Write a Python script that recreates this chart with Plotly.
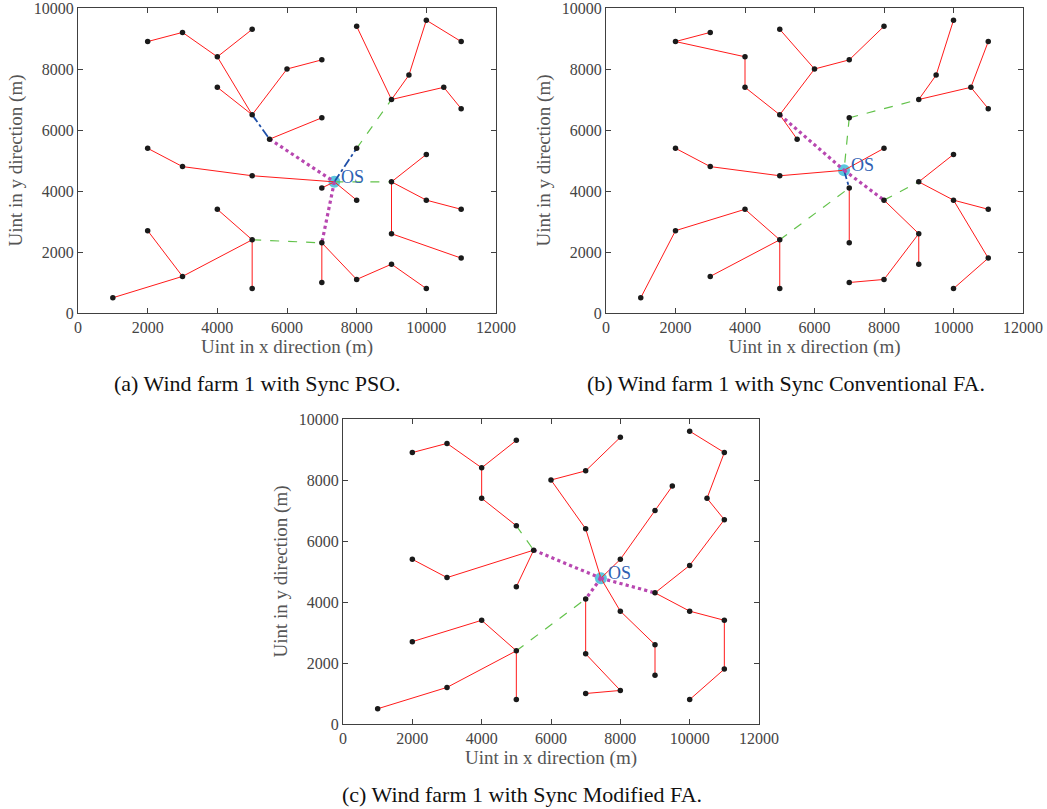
import plotly.graph_objects as go

# Turbine coordinates (same layout in all three panels)
turbine_x = [2000, 3000, 4000, 5000, 4000, 5000, 6000, 7000, 7000, 5500,
             2000, 3000, 5000, 7000, 8000, 8000, 8000, 9000, 9500, 10000,
             11000, 10500, 11000, 9000, 10000, 10000, 11000, 9000, 11000, 9000,
             10000, 8000, 7000, 7000, 5000, 5000, 4000, 2000, 3000, 1000]
turbine_y = [8900, 9200, 8400, 9300, 7400, 6500, 8000, 8300, 6400, 5700,
             5400, 4800, 4500, 4100, 3700, 5400, 9400, 7000, 7800, 9600,
             8900, 7400, 6700, 4300, 5200, 3700, 3400, 2600, 1800, 1600,
             800, 1100, 2300, 1000, 2400, 800, 3400, 2700, 1200, 500]

# Offshore substation positions
os_a = (7360, 4300)
os_b = (6850, 4680)
os_c = (7440, 4780)

# Cable edges, "OS" marks the substation
red_a = [((2000, 8900), (3000, 9200)), ((3000, 9200), (4000, 8400)), ((4000, 8400), (5000, 9300)),
         ((4000, 8400), (5000, 6500)), ((4000, 7400), (5000, 6500)), ((5000, 6500), (6000, 8000)),
         ((6000, 8000), (7000, 8300)), ((5500, 5700), (7000, 6400)), ((2000, 5400), (3000, 4800)),
         ((3000, 4800), (5000, 4500)), ((5000, 4500), "OS"), ("OS", (8000, 3700)), ("OS", (7000, 4100)),
         ((8000, 9400), (9000, 7000)), ((9000, 7000), (9500, 7800)), ((9500, 7800), (10000, 9600)),
         ((10000, 9600), (11000, 8900)), ((9000, 7000), (10500, 7400)), ((10500, 7400), (11000, 6700)),
         ((9000, 4300), (10000, 5200)), ((9000, 4300), (10000, 3700)), ((10000, 3700), (11000, 3400)),
         ((9000, 4300), (9000, 2600)), ((9000, 2600), (11000, 1800)), ((4000, 3400), (5000, 2400)),
         ((2000, 2700), (3000, 1200)), ((3000, 1200), (5000, 2400)), ((1000, 500), (3000, 1200)),
         ((5000, 2400), (5000, 800)), ((7000, 2300), (7000, 1000)), ((7000, 2300), (8000, 1100)),
         ((8000, 1100), (9000, 1600)), ((9000, 1600), (10000, 800))]
green_a = [((8000, 5400), (9000, 7000)), ("OS", (9000, 4300)), ((5000, 2400), (7000, 2300))]
blue_a = [((5000, 6500), (5500, 5700)), ("OS", (8000, 5400))]
magenta_a = [((5500, 5700), "OS"), ("OS", (7000, 2300))]

red_b = [((3000, 9200), (2000, 8900)), ((2000, 8900), (4000, 8400)), ((4000, 8400), (4000, 7400)),
         ((4000, 7400), (5000, 6500)), ((5000, 6500), (6000, 8000)), ((5000, 9300), (6000, 8000)),
         ((6000, 8000), (7000, 8300)), ((7000, 8300), (8000, 9400)), ((5000, 6500), (5500, 5700)),
         ((9000, 7000), (9500, 7800)), ((9500, 7800), (10000, 9600)), ((9000, 7000), (10500, 7400)),
         ((10500, 7400), (11000, 8900)), ((10500, 7400), (11000, 6700)), ((2000, 5400), (3000, 4800)),
         ((3000, 4800), (5000, 4500)), ((5000, 4500), "OS"), ("OS", (8000, 5400)),
         ((7000, 4100), (7000, 2300)), ((9000, 4300), (10000, 5200)), ((9000, 4300), (10000, 3700)),
         ((10000, 3700), (11000, 3400)), ((10000, 3700), (11000, 1800)), ((11000, 1800), (10000, 800)),
         ((8000, 3700), (9000, 2600)), ((9000, 2600), (9000, 1600)), ((9000, 2600), (8000, 1100)),
         ((8000, 1100), (7000, 1000)), ((2000, 2700), (4000, 3400)), ((1000, 500), (2000, 2700)),
         ((4000, 3400), (5000, 2400)), ((3000, 1200), (5000, 2400)), ((5000, 2400), (5000, 800))]
green_b = [((7000, 6400), (9000, 7000)), ((7000, 6400), "OS"), ((5000, 2400), (7000, 4100)),
           ((8000, 3700), (9000, 4300))]
blue_b = [("OS", (7000, 4100))]
magenta_b = [((5000, 6500), "OS"), ("OS", (8000, 3700))]

red_c = [((2000, 8900), (3000, 9200)), ((3000, 9200), (4000, 8400)), ((4000, 8400), (5000, 9300)),
         ((4000, 8400), (4000, 7400)), ((4000, 7400), (5000, 6500)), ((2000, 5400), (3000, 4800)),
         ((3000, 4800), (5500, 5700)), ((5500, 5700), (5000, 4500)), ((6000, 8000), (7000, 8300)),
         ((7000, 8300), (8000, 9400)), ((6000, 8000), (7000, 6400)), ((7000, 6400), "OS"),
         ("OS", (8000, 5400)), ((8000, 5400), (9000, 7000)), ((9000, 7000), (9500, 7800)),
         ((10000, 9600), (11000, 8900)), ((11000, 8900), (10500, 7400)), ((10500, 7400), (11000, 6700)),
         ((11000, 6700), (10000, 5200)), ((10000, 5200), (9000, 4300)), ((9000, 4300), (10000, 3700)),
         ((10000, 3700), (11000, 3400)), ((11000, 3400), (11000, 1800)), ((11000, 1800), (10000, 800)),
         ("OS", (8000, 3700)), ((8000, 3700), (9000, 2600)), ((9000, 2600), (9000, 1600)),
         ((7000, 4100), (7000, 2300)), ((7000, 2300), (8000, 1100)), ((8000, 1100), (7000, 1000)),
         ((2000, 2700), (4000, 3400)), ((4000, 3400), (5000, 2400)), ((1000, 500), (3000, 1200)),
         ((3000, 1200), (5000, 2400)), ((5000, 2400), (5000, 800))]
green_c = [((5000, 6500), (5500, 5700)), ((5000, 2400), (7000, 4100))]
blue_c = []
magenta_c = [((5500, 5700), "OS"), ("OS", (9000, 4300)), ("OS", (7000, 4100))]

captions = ["(a) Wind farm 1 with Sync PSO.",
            "(b) Wind farm 1 with Sync Conventional FA.",
            "(c) Wind farm 1 with Sync Modified FA."]
x_ticks = [0, 2000, 4000, 6000, 8000, 10000, 12000]
y_ticks = [0, 2000, 4000, 6000, 8000, 10000]

W, H = 1047, 809
panels = [
    dict(os=os_a, red=red_a, green=green_a, blue=blue_a, magenta=magenta_a,
         px=(78, 496), py=(8, 313), cap_x=257),
    dict(os=os_b, red=red_b, green=green_b, blue=blue_b, magenta=magenta_b,
         px=(606, 1023), py=(8, 313), cap_x=786),
    dict(os=os_c, red=red_c, green=green_c, blue=blue_c, magenta=magenta_c,
         px=(343, 759), py=(419, 724), cap_x=522),
]

SERIF = "Liberation Serif, Times New Roman, serif"
fig = go.Figure()
layout = {}


def seg_xy(edges, osp):
    xs, ys = [], []
    for a, b in edges:
        pa = osp if a == "OS" else a
        pb = osp if b == "OS" else b
        xs += [pa[0], pb[0], None]
        ys += [pa[1], pb[1], None]
    return xs, ys


for i, p in enumerate(panels):
    sfx = "" if i == 0 else str(i + 1)
    xa, ya = "x" + sfx, "y" + sfx
    osp = p["os"]
    xd = [p["px"][0] / W, p["px"][1] / W]
    yd = [1 - p["py"][1] / H, 1 - p["py"][0] / H]
    fig.add_trace(go.Scatter(x=[osp[0]], y=[osp[1]], mode="markers", xaxis=xa, yaxis=ya,
                             marker=dict(size=12, color="#5cc6de", line=dict(width=0)),
                             showlegend=False, hoverinfo="skip"))
    styles = [("red", "#ff1a1a", 1.0, "solid"),
              ("green", "#62c24a", 1.2, "dash"),
              ("blue", "#1f4fa8", 1.8, "dashdot"),
              ("magenta", "#b847b0", 3.2, "dot")]
    for key, col, w, dash in styles:
        if not p[key]:
            continue
        xs, ys = seg_xy(p[key], osp)
        fig.add_trace(go.Scatter(x=xs, y=ys, mode="lines", xaxis=xa, yaxis=ya,
                                 line=dict(color=col, width=w, dash=dash),
                                 showlegend=False, hoverinfo="skip"))
    fig.add_trace(go.Scatter(x=turbine_x, y=turbine_y, mode="markers", xaxis=xa, yaxis=ya,
                             marker=dict(size=5.5, color="#1a1a1a"),
                             showlegend=False, hoverinfo="skip"))
    fig.add_annotation(x=osp[0], y=osp[1], xref=xa, yref=ya, text="OS", showarrow=False,
                       xanchor="left", yanchor="bottom", xshift=5, yshift=-7,
                       font=dict(family=SERIF, size=18, color="#2f5fb3"))
    axis_common = dict(showgrid=False, zeroline=False, showline=True, linecolor="#404040",
                       linewidth=1, mirror="ticks", ticks="inside", ticklen=5,
                       tickcolor="#404040", automargin=False, ticklabeloverflow="allow",
                       tickfont=dict(family=SERIF, size=16, color="#444444"))
    layout["xaxis" + sfx] = dict(axis_common, domain=xd, range=[0, 12000],
                                 tickvals=x_ticks, ticktext=[str(v) for v in x_ticks],
                                 anchor=ya,
                                 title=dict(text="Uint in x direction (m)", standoff=2,
                                            font=dict(family=SERIF, size=19, color="#555555")))
    layout["yaxis" + sfx] = dict(axis_common, domain=yd, range=[0, 10000],
                                 tickvals=y_ticks, ticktext=[str(v) for v in y_ticks],
                                 anchor=xa,
                                 title=dict(text="Uint in y direction (m)", standoff=6,
                                            font=dict(family=SERIF, size=19, color="#555555")))
    fig.add_annotation(x=p["cap_x"] / W, y=1 - (p["py"][1] + 70) / H, xref="paper", yref="paper",
                       text=captions[i], showarrow=False, xanchor="center", yanchor="middle",
                       font=dict(family=SERIF, size=22, color="#111111"))

fig.update_layout(width=W, height=H, margin=dict(l=0, r=0, t=0, b=0),
                  paper_bgcolor="white", plot_bgcolor="white", **layout)
fig.write_html("out.html", config={"displayModeBar": False},
               post_script="document.body.style.margin='0px';document.body.style.padding='0px';")
